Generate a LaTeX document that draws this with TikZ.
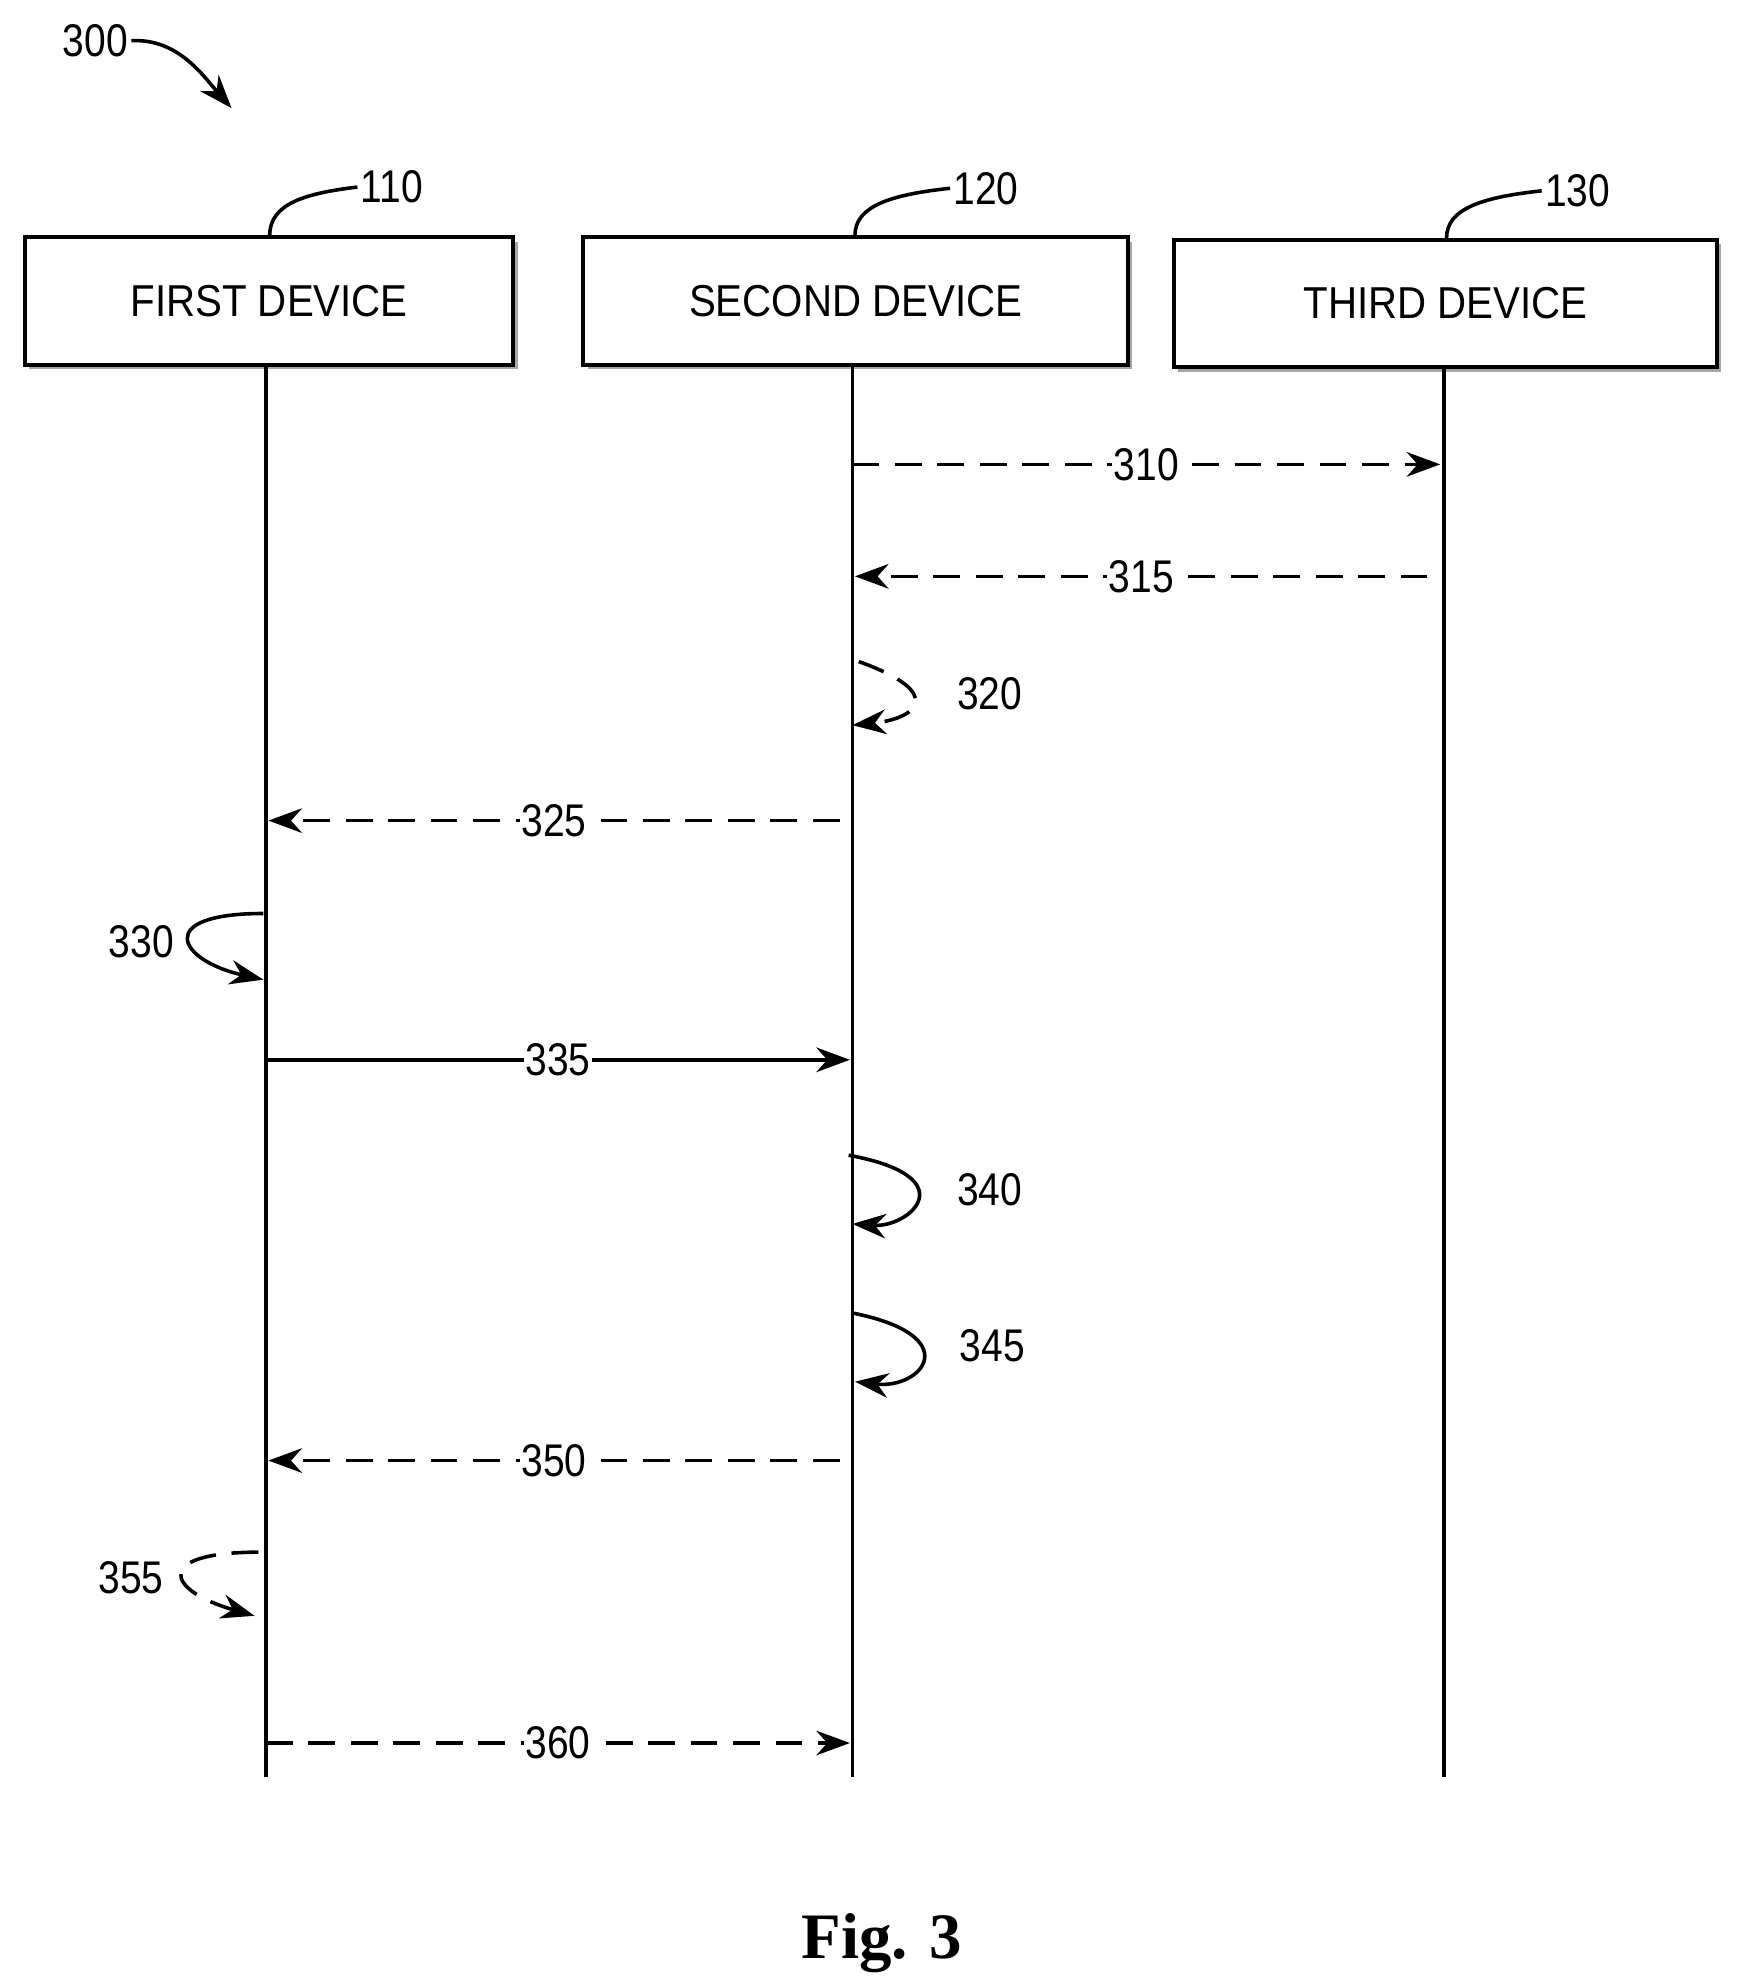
\documentclass[tikz,border=0pt]{standalone}
\usepackage{fontspec}
\setmainfont{Liberation Sans}
\newfontfamily\figfont{Liberation Serif}
\usetikzlibrary{arrows.meta}
\begin{document}
\begin{tikzpicture}[x=0.02cm,y=-0.02cm,line width=1.6pt,
  dev/.style={draw,line width=1.8pt,fill=white,minimum width=#1*0.02cm,minimum height=100*0.02cm,inner sep=0pt},
  devtext/.style={font=\fontsize{20}{24}\selectfont,xscale=0.9},
  num/.style={font=\fontsize{20.5}{24}\selectfont,xscale=0.85,inner sep=1pt},
  lbl/.style={num,fill=white},
  arr/.style={-{Stealth[length=15pt,width=11pt]}},
  dsh/.style={dash pattern=on 12pt off 7pt},
  life/.style={line width=1.7pt}]
\useasboundingbox (0,0) rectangle (1366,1561);
% boxes with shadow
\foreach \x/\y/\w in {18/185/384,457/185/428,921/187/427}{
  \fill[gray!70] (\x+5,\y+5) rectangle (\x+\w+5,\y+105);}
\node[dev=384,anchor=north west] (d1) at (18,185) {};
\node[dev=428,anchor=north west] (d2) at (457,185) {};
\node[dev=427,anchor=north west] (d3) at (921,187) {};
\node[devtext] at (d1) {FIRST DEVICE};
\node[devtext] at (d2) {SECOND DEVICE};
\node[devtext] at (d3) {THIRD DEVICE};
% lifelines
\coordinate (e1) at (209,1397); \coordinate (e2) at (670,1397); \coordinate (e3) at (1135,1397);
\draw[life] (d1.south -| e1) -- (e1);
\draw[life] (d2.south -| e2) -- (e2);
\draw[life] (d3.south -| e3) -- (e3);
% reference labels
\node[num] (n300) at (75,32) {300};
\draw[arr] (n300.east) .. controls (140,30) and (160,60) .. (182,85);
\node[num] (n110) at (308,147) {110};
\draw (212,185) .. controls (212,160) and (240,152) .. (n110.west);
\node[num] (n120) at (775,148) {120};
\draw (672,185) .. controls (672,162) and (700,153) .. (n120.west);
\node[num] (n130) at (1240,150) {130};
\draw (1137,187) .. controls (1137,164) and (1165,155) .. (n130.west);
% messages
\coordinate (a1) at (670,365); \coordinate (b1) at (1132,365);
\draw[arr,dsh] (a1) -- node[lbl] {310} (b1);
\coordinate (a2) at (1122,453); \coordinate (b2) at (672,453);
\draw[arr,dsh] (a2) -- node[lbl] {315} (b2);
\coordinate (a3) at (675,520); \coordinate (b3) at (670,570);
\draw[arr,dsh] (a3) .. controls (745,545) and (720,565) .. (b3);
\node[num] at (778,545) {320};
\coordinate (a4) at (660,645); \coordinate (b4) at (211,645);
\draw[arr,dsh] (a4) -- node[lbl] {325} (b4);
\coordinate (a5) at (207,718); \coordinate (b5) at (207,770);
\draw[arr] (a5) .. controls (120,718) and (140,755) .. (b5);
\node[num] at (111,740) {330};
\coordinate (a6) at (209,833); \coordinate (b6) at (668,833);
\draw[arr] (a6) -- node[lbl] {335} (b6);
\coordinate (a7) at (667,908); \coordinate (b7) at (670,962);
\draw[arr] (a7) .. controls (760,925) and (715,965) .. (b7);
\node[num] at (778,935) {340};
\coordinate (a8) at (670,1032); \coordinate (b8) at (672,1086);
\draw[arr] (a8) .. controls (760,1050) and (725,1092) .. (b8);
\node[num] at (780,1058) {345};
\coordinate (a9) at (660,1148); \coordinate (b9) at (211,1148);
\draw[arr,dsh] (a9) -- node[lbl] {350} (b9);
\coordinate (a10) at (203,1220); \coordinate (b10) at (200,1270);
\draw[arr,dsh] (a10) .. controls (120,1220) and (130,1250) .. (b10);
\node[num] at (103,1240) {355};
\coordinate (a11) at (209,1370); \coordinate (b11) at (668,1370);
\draw[arr,dsh] (a11) -- node[lbl] {360} (b11);
\node[font=\figfont\bfseries\fontsize{29}{34}\selectfont] (fig) at (693,1527) {Fig. 3};
\end{tikzpicture}
\end{document}
